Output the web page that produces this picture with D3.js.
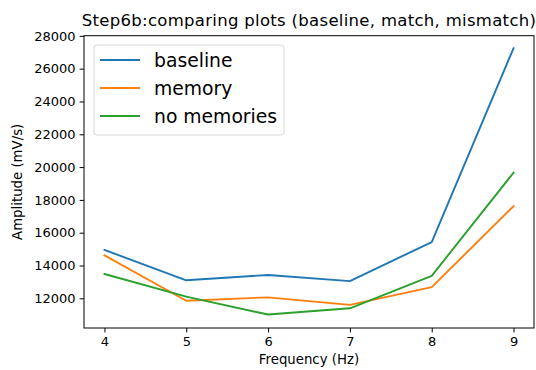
<!DOCTYPE html>
<html>
<head>
<meta charset="utf-8">
<script src="https://cdn.jsdelivr.net/npm/d3@7"></script>
<style>
  body { margin: 0; background: #fff; }
  svg text { font-family: "DejaVu Sans", sans-serif; }
</style>
</head>
<body>
<svg id="graphContainer" width="536" height="370"></svg>
<script>
// values
const freqs = [4, 5, 6, 7, 8, 9];
const baseline = [14950, 13100, 13420, 13050, 15430, 27250];
const memory = [14620, 11850, 12060, 11600, 12680, 17620];
const noMemories = [13480, 12100, 11010, 11390, 13370, 19660];
const yTicks = [12000, 14000, 16000, 18000, 20000, 22000, 24000, 26000, 28000];

const seriesNames = ['baseline', 'memory', 'no memories'];
const seriesValues = [baseline, memory, noMemories];
const colors = ['#1f77b4', '#ff7f0e', '#2ca02c'];

// plot area edges (window.top is reserved, so prefixed names)
const plotLeft = 84, plotRight = 534, plotTop = 35.7, plotBottom = 328;

const svg = d3.select('#graphContainer');

const x = d3.scaleLinear().domain([3.75, 9.25]).range([plotLeft, plotRight]);
const y = d3.scaleLinear().domain([10190, 28010]).range([plotBottom, plotTop]);

// lines
const line = d3.line()
  .x((d, i) => x(freqs[i]))
  .y(d => y(d));

const g = svg.append('g').attr('class', 'lines');
g.selectAll('path')
  .data(seriesValues)
  .enter()
  .append('path')
  .attr('d', line)
  .attr('fill', 'none')
  .attr('stroke', (d, i) => colors[i])
  .attr('stroke-width', 1.9)
  .attr('stroke-linejoin', 'round')
  .attr('stroke-linecap', 'square');

// axes
const xAxis = svg.append('g')
  .attr('transform', `translate(0,${plotBottom})`)
  .call(d3.axisBottom(x).tickValues(freqs).tickFormat(d3.format('d')).tickSize(4.4).tickPadding(4));
const yAxis = svg.append('g')
  .attr('transform', `translate(${plotLeft},0)`)
  .call(d3.axisLeft(y).tickValues(yTicks).tickFormat(d3.format('d')).tickSize(4.4).tickPadding(4));

[xAxis, yAxis].forEach(a => {
  a.select('.domain').remove();
  a.selectAll('line').attr('stroke', '#000').attr('stroke-width', 1);
  a.selectAll('text')
    .attr('fill', '#000')
    .style('font-size', '13px');
});

// frame
svg.append('rect')
  .attr('x', plotLeft)
  .attr('y', plotTop)
  .attr('width', plotRight - plotLeft)
  .attr('height', plotBottom - plotTop)
  .attr('fill', 'none')
  .attr('stroke', '#000')
  .attr('stroke-width', 1);

// title and labels
svg.append('text')
  .attr('x', (plotLeft + plotRight) / 2)
  .attr('y', 26)
  .attr('text-anchor', 'middle')
  .style('font-size', '16.5px')
  .style('letter-spacing', '0.3px')
  .text('Step6b:comparing plots (baseline, match, mismatch)');

svg.append('text')
  .attr('x', (plotLeft + plotRight) / 2)
  .attr('y', 364)
  .attr('text-anchor', 'middle')
  .style('font-size', '13.3px')
  .text('Frequency (Hz)');

svg.append('text')
  .attr('transform', `translate(22,${(plotTop + plotBottom) / 2}) rotate(-90)`)
  .attr('text-anchor', 'middle')
  .style('font-size', '13.3px')
  .text('Amplitude (mV/s)');

// legend
const legend = svg.append('g').attr('class', 'legend');
legend.append('rect')
  .attr('x', 94)
  .attr('y', 45)
  .attr('width', 190)
  .attr('height', 90)
  .attr('rx', 3)
  .attr('fill', 'rgba(255,255,255,0.8)')
  .attr('stroke', '#d6d6d6')
  .attr('stroke-width', 1);

const items = legend.selectAll('g.item')
  .data(seriesNames)
  .enter()
  .append('g')
  .attr('class', 'item')
  .attr('transform', (d, i) => `translate(0,${60 + i * 28})`);
items.append('line')
  .attr('x1', 100)
  .attr('x2', 140)
  .attr('stroke', (d, i) => colors[i])
  .attr('stroke-width', 1.9);
items.append('text')
  .attr('x', 154)
  .attr('y', 6.5)
  .style('font-size', '18.75px')
  .attr('fill', '#000')
  .text(d => d);
</script>
</body>
</html>
